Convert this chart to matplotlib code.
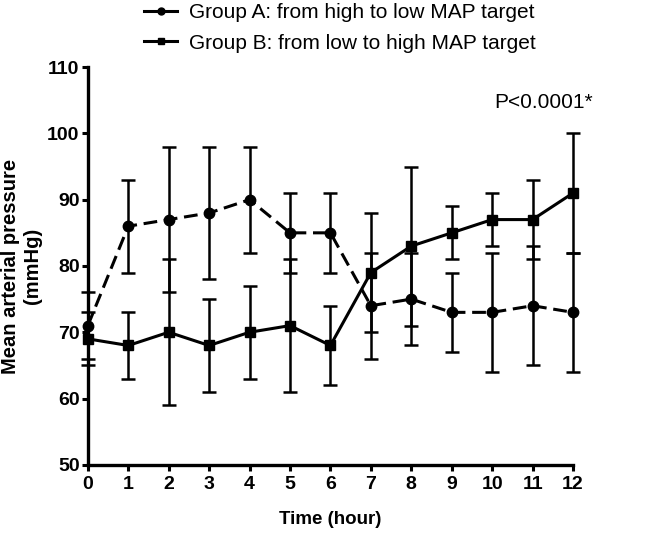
import numpy as np
import matplotlib.pyplot as plt

plt.rcParams['font.family'] = ['Liberation Sans', 'DejaVu Sans']

hours = np.arange(0, 13)
group_a = [71, 86, 87, 88, 90, 85, 85, 74, 75, 73, 73, 74, 73]
err_a = [5, 7, 11, 10, 8, 6, 6, 8, 7, 6, 9, 9, 9]
group_b = [69, 68, 70, 68, 70, 71, 68, 79, 83, 85, 87, 87, 91]
err_b = [4, 5, 11, 7, 7, 10, 6, 9, 12, 4, 4, 6, 9]

fig = plt.figure(figsize=(6.46, 5.33), dpi=100)
ax = fig.add_axes([0.136, 0.128, 0.751, 0.746])

lw = 2.2
ea = ax.errorbar(hours, group_a, yerr=err_a, color='black', marker='o', markersize=7.5,
                 linestyle=(0, (4.5, 2.2)), linewidth=lw, elinewidth=1.8, capsize=5, capthick=1.8,
                 label='Group A: from high to low MAP target', clip_on=False, zorder=3)
eb = ax.errorbar(hours, group_b, yerr=err_b, color='black', marker='s', markersize=7,
                 linestyle='-', linewidth=lw, elinewidth=1.8, capsize=5, capthick=1.8,
                 label='Group B: from low to high MAP target', clip_on=False, zorder=3)

ax.set_xlim(0, 12)
ax.set_ylim(50, 110)
ax.set_xticks(hours)
ax.set_yticks(np.arange(50, 111, 10))
for s in ['top', 'right']:
    ax.spines[s].set_visible(False)
for s in ['left', 'bottom']:
    ax.spines[s].set_linewidth(2.4)
ax.tick_params(width=2.2, length=4, labelsize=14, pad=2)
ax.tick_params(axis='x', pad=4)
for lab in ax.get_xticklabels() + ax.get_yticklabels():
    lab.set_fontweight('bold')

ax.set_xlabel('Time (hour)', fontsize=13.5, fontweight='bold', labelpad=13)
ax.set_ylabel('Mean arterial pressure\n(mmHg)', fontsize=14.5, fontweight='bold', labelpad=4)

ax.text(0.94, 0.91, 'P<0.0001*', transform=ax.transAxes, fontsize=15, ha='center', va='center')

# legend handles: plain line + marker, smaller markers like the original
h_a, = ax.plot([], [], color='black', marker='o', markersize=5, linewidth=lw)
h_b, = ax.plot([], [], color='black', marker='s', markersize=5, linewidth=lw)
fig.legend([h_a, h_b], [ea.get_label(), eb.get_label()], loc='center left',
           bbox_to_anchor=(144 / 646, 1 - 28 / 533), frameon=False, fontsize=15,
           handlelength=1.6, handletextpad=0.55, labelspacing=0.55,
           borderpad=0, borderaxespad=0)

fig.savefig('out.png', dpi=100)
